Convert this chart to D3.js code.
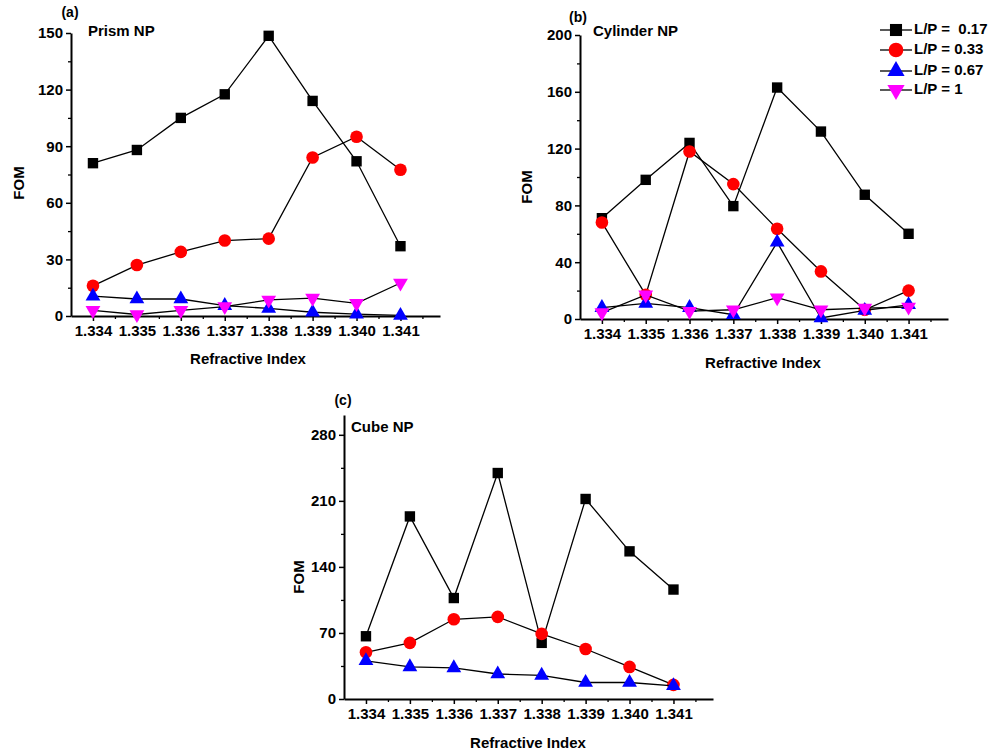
<!DOCTYPE html>
<html>
<head>
<meta charset="utf-8">
<script src="https://cdn.jsdelivr.net/npm/d3@7"></script>
<style>
  body { margin: 0; background: #fff; }
  svg text { font-family: "Liberation Sans", Arial, sans-serif; font-weight: bold; fill: #000; }
</style>
</head>
<body>
<div id="graph"></div>
<script>
var width = 992;
var height = 754;

// x categories (refractive index)
var refractiveIndex = [1.334, 1.335, 1.336, 1.337, 1.338, 1.339, 1.340, 1.341];
var xTickLabels = ["1.334", "1.335", "1.336", "1.337", "1.338", "1.339", "1.340", "1.341"];

// series names
var seriesNames = ["L/P =  0.17", "L/P = 0.33", "L/P = 0.67", "L/P = 1"];

// (a) Prism NP
var prismLP017 = [81, 88, 105, 117.5, 148.5, 114, 82, 37];
var prismLP033 = [16, 27, 34, 40, 41, 84, 95, 77.5];
var prismLP067 = [10.5, 9, 9, 5.5, 4, 2, 1, 0.3];
var prismLP1 = [3, 0.8, 3, 5, 8.5, 9.5, 6.7, 17.5];
var prismYTicks = [0, 30, 60, 90, 120, 150];

// (b) Cylinder NP
var cylLP017 = [71, 98, 124, 79.5, 163, 132, 87.5, 60];
var cylLP033 = [68, 17, 118, 95, 63.5, 33.5, 6.5, 20];
var cylLP067 = [8, 11, 8, 3, 54, 0.7, 6, 10];
var cylLP1 = [4.5, 17, 5.5, 6.5, 15, 6.5, 7.7, 8.4];
var cylYTicks = [0, 40, 80, 120, 160, 200];

// (c) Cube NP
var cubeLP017 = [66.5, 193.5, 107, 239.5, 59.5, 212, 156.5, 116];
var cubeLP033 = [49.5, 59.5, 84.5, 87, 69, 53, 34, 15];
var cubeLP067 = [40.5, 34, 33, 26.5, 25, 17.5, 17.5, 14];
var cubeYTicks = [0, 70, 140, 210, 280];

var seriesStyle = [
  { color: "#000000", symbol: d3.symbolSquare, size: 108, rotate: 0 },
  { color: "#ff0000", symbol: d3.symbolCircle, size: 125, rotate: 0 },
  { color: "#0000ff", symbol: d3.symbolTriangle, size: 95, rotate: 0 },
  { color: "#ff00ff", symbol: d3.symbolTriangle, size: 95, rotate: 180 }
];

var panels = [
  { tag: "(a)", name: "Prism NP", series: [prismLP017, prismLP033, prismLP067, prismLP1],
    yTicks: prismYTicks, yMax: 150, left: 71, right: 440, top: 33, bottom: 316,
    tagPos: [70, 13], namePos: [88, 32], fomPos: [20, 183], xTitlePos: [248, 360] },
  { tag: "(b)", name: "Cylinder NP", series: [cylLP017, cylLP033, cylLP067, cylLP1],
    yTicks: cylYTicks, yMax: 200, left: 580, right: 948, top: 35, bottom: 319,
    tagPos: [578, 18], namePos: [593, 32], fomPos: [528, 187], xTitlePos: [763, 364] },
  { tag: "(c)", name: "Cube NP", series: [cubeLP017, cubeLP033, cubeLP067],
    yTicks: cubeYTicks, yMax: 301, left: 344, right: 713, top: 415, bottom: 699,
    tagPos: [343, 401], namePos: [351, 428], fomPos: [300, 577], xTitlePos: [528, 744] }
];

var svg = d3.select("#graph").append("svg")
  .attr("width", width)
  .attr("height", height);

function drawPanel(p) {
  var g = svg.append("g");

  var xScale = d3.scaleLinear().domain([1.3335, 1.3419]).range([p.left, p.right]);
  var yScale = d3.scaleLinear().domain([0, p.yMax]).range([p.bottom, p.top]);

  // minor ticks (half steps)
  var yStep = p.yTicks[1] - p.yTicks[0];
  var yMinor = p.yTicks.map(function (t) { return t + yStep / 2; }).filter(function (t) { return t < p.yMax; });
  var xMinor = refractiveIndex.map(function (t) { return t + 0.0005; });

  g.append("g")
    .attr("transform", "translate(" + p.left + ",0)")
    .call(d3.axisLeft(yScale).tickValues(yMinor).tickSize(3).tickSizeOuter(0).tickFormat(""))
    .call(function (s) { s.select(".domain").remove(); s.selectAll("line").attr("stroke-width", 1.3); });

  g.append("g")
    .attr("transform", "translate(0," + p.bottom + ")")
    .call(d3.axisBottom(xScale).tickValues(xMinor).tickSize(3).tickSizeOuter(0).tickFormat(""))
    .call(function (s) { s.select(".domain").remove(); s.selectAll("line").attr("stroke-width", 1.3); });

  var yAxis = g.append("g")
    .attr("transform", "translate(" + p.left + ",0)")
    .call(d3.axisLeft(yScale).tickValues(p.yTicks).tickSize(5).tickSizeOuter(0).tickPadding(3).tickFormat(d3.format("d")));
  yAxis.select(".domain").attr("stroke-width", 2);
  yAxis.selectAll(".tick line").attr("stroke-width", 1.5);
  yAxis.selectAll(".tick text").style("font-size", "15px");

  var xAxis = g.append("g")
    .attr("transform", "translate(0," + p.bottom + ")")
    .call(d3.axisBottom(xScale).tickValues(refractiveIndex).tickSize(5).tickSizeOuter(0).tickPadding(4)
      .tickFormat(function (d, i) { return xTickLabels[i]; }));
  xAxis.select(".domain").attr("stroke-width", 2);
  xAxis.selectAll(".tick line").attr("stroke-width", 1.5);
  xAxis.selectAll(".tick text").style("font-size", "15px");

  // series lines + markers
  p.series.forEach(function (vals, si) {
    var st = seriesStyle[si];
    var line = d3.line()
      .x(function (d, i) { return xScale(refractiveIndex[i]); })
      .y(function (d) { return yScale(d); });
    g.append("path")
      .datum(vals)
      .attr("d", line)
      .attr("fill", "none")
      .attr("stroke", "#000")
      .attr("stroke-width", 1.3);
    g.selectAll(".m" + si)
      .data(vals)
      .enter()
      .append("path")
      .attr("class", "m" + si)
      .attr("d", d3.symbol().type(st.symbol).size(st.size))
      .attr("transform", function (d, i) {
        return "translate(" + xScale(refractiveIndex[i]) + "," + yScale(d) + ") rotate(" + st.rotate + ")";
      })
      .attr("fill", st.color);
  });

  g.append("text").attr("x", p.tagPos[0]).attr("y", p.tagPos[1]).attr("text-anchor", "middle")
    .attr("dominant-baseline", "middle").style("font-size", "14px").text(p.tag);
  g.append("text").attr("x", p.namePos[0]).attr("y", p.namePos[1])
    .attr("dominant-baseline", "middle").style("font-size", "15px").text(p.name);
  g.append("text")
    .attr("transform", "translate(" + p.fomPos[0] + "," + p.fomPos[1] + ") rotate(-90)")
    .attr("text-anchor", "middle").attr("dominant-baseline", "middle")
    .style("font-size", "15px").text("FOM");
  g.append("text").attr("x", p.xTitlePos[0]).attr("y", p.xTitlePos[1])
    .attr("text-anchor", "middle").attr("dominant-baseline", "middle")
    .style("font-size", "15px").text("Refractive Index");
}

function createLegend() {
  var lg = svg.append("g");
  var rowY = [30, 50, 71, 90];
  seriesNames.forEach(function (name, i) {
    var st = seriesStyle[i];
    lg.append("line").attr("x1", 880).attr("x2", 912).attr("y1", rowY[i]).attr("y2", rowY[i])
      .attr("stroke", "#000").attr("stroke-width", 1.3);
    lg.append("path")
      .attr("d", d3.symbol().type(st.symbol).size(st.size * 1.35))
      .attr("transform", "translate(896," + rowY[i] + ") rotate(" + st.rotate + ")")
      .attr("fill", st.color);
    lg.append("text").attr("x", 914).attr("y", rowY[i]).attr("dominant-baseline", "middle")
      .style("font-size", "15px").style("white-space", "pre").attr("xml:space", "preserve").text(name);
  });
}

panels.forEach(drawPanel);
createLegend();
</script>
</body>
</html>
